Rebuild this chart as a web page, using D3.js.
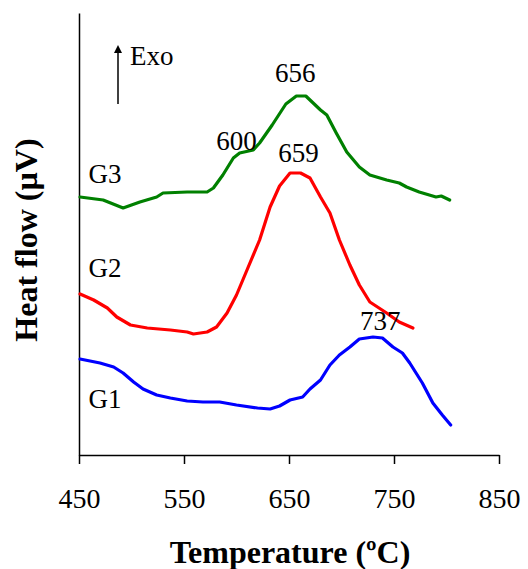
<!DOCTYPE html>
<html>
<head>
<meta charset="utf-8">
<script src="https://cdn.jsdelivr.net/npm/d3@7"></script>
<style>
  body { margin: 0; background: #fff; }
  svg { display: block; }
  svg text { font-family: "Liberation Serif", "Times New Roman", serif; }
</style>
</head>
<body>
<svg id="chart" width="528" height="569"></svg>
<script>
// temperatures (ºC) and heat flow (arbitrary µV units, no scale shown)
const g1Temp = [451, 470, 483, 492, 502, 511, 524, 537, 553, 568, 584, 600, 620, 632, 641, 651, 663, 670, 680, 689, 698, 708, 717, 730, 739, 749, 758, 765, 777, 787, 796, 804];
const g1Flow = [9.6, 9.2, 8.8, 8.2, 7.3, 6.6, 6.0, 5.7, 5.4, 5.3, 5.3, 5.0, 4.7, 4.6, 4.9, 5.5, 5.8, 6.6, 7.5, 9.0, 10.0, 10.8, 11.6, 11.8, 11.7, 10.8, 10.2, 9.2, 7.2, 5.2, 4.0, 3.0];

const g2Temp = [451, 464, 477, 486, 499, 515, 537, 553, 559, 572, 581, 591, 600, 610, 622, 632, 641, 651, 661, 670, 680, 689, 698, 708, 717, 727, 743, 755, 768];
const g2Flow = [16.1, 15.5, 14.7, 13.8, 13.0, 12.7, 12.5, 12.3, 12.1, 12.3, 12.8, 14.2, 16.0, 18.5, 21.5, 24.8, 26.9, 28.2, 28.2, 27.7, 25.8, 24.2, 21.5, 19.0, 17.0, 15.3, 14.2, 13.3, 12.7];

const g3Temp = [451, 473, 492, 508, 524, 530, 553, 572, 578, 587, 597, 603, 616, 622, 634, 647, 657, 666, 680, 686, 695, 705, 717, 727, 743, 755, 762, 774, 790, 795, 803];
const g3Flow = [25.8, 25.5, 24.7, 25.3, 25.8, 26.2, 26.3, 26.3, 26.7, 28.0, 29.7, 30.2, 30.5, 31.2, 33.0, 35.1, 35.9, 35.9, 34.5, 34.0, 32.2, 30.3, 28.8, 28.0, 27.5, 27.2, 26.8, 26.3, 25.8, 25.9, 25.5];

const seriesNames = ["G1", "G2", "G3"];
const seriesColors = ["#0000ff", "#ff0000", "#008000"];
const xTicks = [450, 550, 650, 750, 850];

// curve labels and peak temperatures: [text, temperature, flow]
const nameLabels = [["G1", 459, 4.7], ["G2", 459, 17.8], ["G3", 459, 27.2]];
const peakLabels = [["600", 600, 30.5], ["656", 656, 37.3], ["659", 659, 29.3], ["737", 737, 12.5]];

(function drawChart() {
  const svg = d3.select("#chart");
  const mLeft = 79, mRight = 499, mTop = 13, mBottom = 455;

  const x = d3.scaleLinear().domain([450, 850]).range([mLeft, mRight]);
  const y = d3.scaleLinear().domain([0, 44.2]).range([mBottom, mTop]);

  const series = [
    { name: seriesNames[0], color: seriesColors[0], temp: g1Temp, flow: g1Flow },
    { name: seriesNames[1], color: seriesColors[1], temp: g2Temp, flow: g2Flow },
    { name: seriesNames[2], color: seriesColors[2], temp: g3Temp, flow: g3Flow }
  ];

  // axes
  const xAxis = svg.append("g")
    .attr("transform", `translate(0,${mBottom})`)
    .call(d3.axisBottom(x).tickValues(xTicks).tickSize(9).tickSizeOuter(0).tickFormat(d3.format("d")));
  xAxis.attr("font-family", null);
  xAxis.select(".domain").attr("stroke", "#000").attr("stroke-width", 1.5);
  xAxis.selectAll(".tick line").attr("stroke", "#000").attr("stroke-width", 1.5);
  xAxis.selectAll(".tick text")
    .attr("y", 53).attr("dy", 0)
    .attr("fill", "#000")
    .style("font-size", "28px");

  const yAxis = svg.append("g")
    .attr("transform", `translate(${mLeft},0)`)
    .call(d3.axisLeft(y).tickValues([]).tickSizeOuter(0));
  yAxis.select(".domain").attr("stroke", "#000").attr("stroke-width", 1.5);

  // curves
  const line = d3.line()
    .x(d => x(d[0]))
    .y(d => y(d[1]));

  svg.append("g")
    .selectAll("path")
    .data(series)
    .join("path")
      .attr("fill", "none")
      .attr("stroke", d => d.color)
      .attr("stroke-width", 3.2)
      .attr("stroke-linejoin", "round")
      .attr("stroke-linecap", "round")
      .attr("d", d => line(d.temp.map((t, i) => [t, d.flow[i]])));

  // labels
  svg.append("g")
    .selectAll("text")
    .data(nameLabels)
    .join("text")
      .attr("x", d => x(d[1]))
      .attr("y", d => y(d[2]))
      .style("font-size", "27px")
      .text(d => d[0]);

  svg.append("g")
    .selectAll("text")
    .data(peakLabels)
    .join("text")
      .attr("x", d => x(d[1]))
      .attr("y", d => y(d[2]))
      .attr("text-anchor", "middle")
      .style("font-size", "27px")
      .text(d => d[0]);

  // exo arrow
  svg.append("defs").append("marker")
    .attr("id", "head")
    .attr("viewBox", "0 0 10 10")
    .attr("refX", 5).attr("refY", 10)
    .attr("markerWidth", 8).attr("markerHeight", 12)
    .attr("markerUnits", "userSpaceOnUse")
    .attr("orient", "0")
    .append("path")
      .attr("d", "M0,10 L5,0 L10,10 Z")
      .attr("fill", "#000");

  svg.append("line")
    .attr("x1", 118).attr("x2", 118)
    .attr("y1", 104).attr("y2", 53)
    .attr("stroke", "#000").attr("stroke-width", 1.5)
    .attr("marker-end", "url(#head)");

  svg.append("text")
    .attr("x", 130).attr("y", 65)
    .style("font-size", "27px")
    .text("Exo");

  // axis titles
  svg.append("text")
    .attr("x", 290).attr("y", 563)
    .attr("text-anchor", "middle")
    .style("font-size", "32px")
    .style("font-weight", "bold")
    .text("Temperature (ºC)");

  svg.append("text")
    .attr("transform", "translate(37,240) rotate(-90)")
    .attr("text-anchor", "middle")
    .style("font-size", "32px")
    .style("font-weight", "bold")
    .text("Heat flow (µV)");
})();
</script>
</body>
</html>
